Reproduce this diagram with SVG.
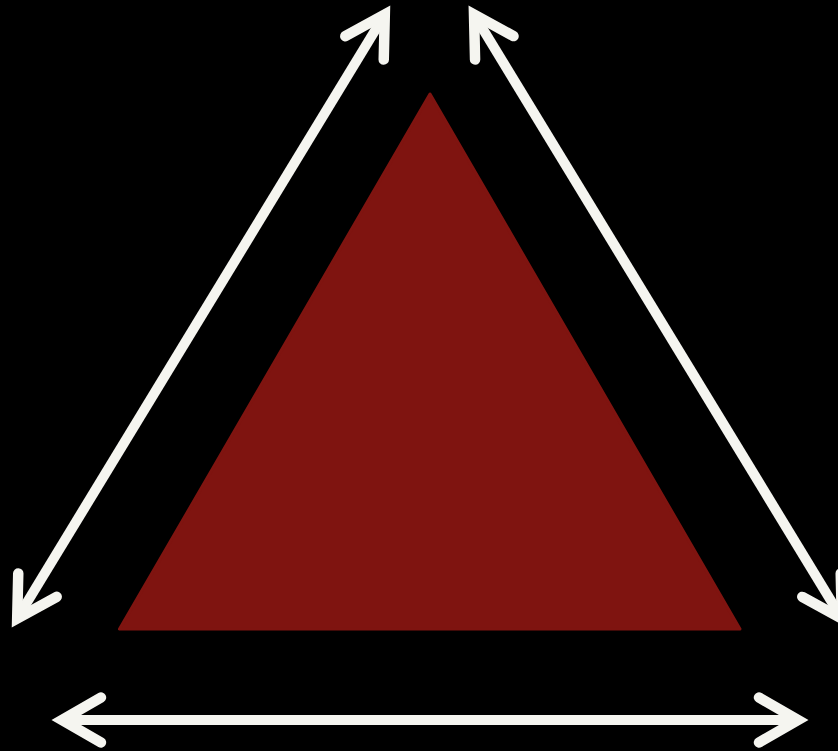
<svg xmlns="http://www.w3.org/2000/svg" width="838" height="751" viewBox="0 0 838 751">
  <style>
    .arrow { stroke: #F5F5F0; stroke-width: 10; fill: none; marker-start: url(#head); marker-end: url(#head); }
  </style>
  <defs>
    <marker id="head" markerUnits="userSpaceOnUse" orient="auto-start-reverse" refX="0" refY="0" markerWidth="60" markerHeight="60" viewBox="-50 -30 60 60" overflow="visible">
      <path d="M-39,-22.5 L0,0 L-39,22.5" fill="none" stroke="#F5F5F0" stroke-width="10.5" stroke-linecap="round" stroke-linejoin="miter" stroke-miterlimit="10"/>
    </marker>
  </defs>
  <rect width="838" height="751" fill="#000000"/>
  <g id="triangle">
    <polygon points="430,94 119.5,629 740,629" fill="#7F1410" stroke="#7F1410" stroke-width="3" stroke-linejoin="round"/>
  </g>
  <g id="connectors">
    <line class="arrow" x1="17.2" y1="618.5" x2="384.8" y2="14.5"/>
    <line class="arrow" x1="474" y1="14.5" x2="841.8" y2="618.5"/>
    <line class="arrow" x1="62" y1="720" x2="798" y2="720"/>
  </g>
</svg>
